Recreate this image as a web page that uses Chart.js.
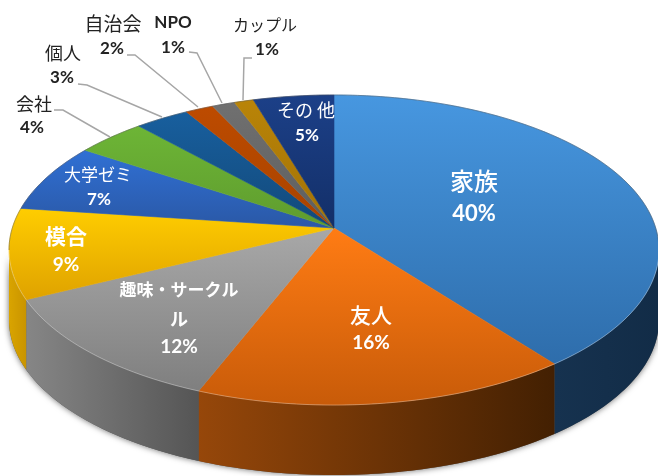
<!DOCTYPE html>
<html lang="ja">
<head>
<meta charset="utf-8">
<title>3D pie</title>
<script src="https://cdn.jsdelivr.net/npm/chart.js@4"></script>
<style>
    html, body { margin: 0; padding: 0; background: #fff; }
    #chart { display: block; filter: blur(0.4px); }
</style>
</head>
<body>
<canvas id="chart" width="658" height="476"></canvas>
<script>
const categories = ['家族', '友人', '趣味・サークル', '模合', '大学ゼミ', '会社', '個人', '自治会', 'NPO', 'カップル', 'その他'];
// unrounded shares estimated from the slice edges, the printed labels are these rounded
const shares = [39.6, 16.35, 11.75, 9.4, 7.2, 4.0, 3.1, 1.6, 1.3, 1.1, 4.6];

// top face gradient, top to bottom
const topLight = ['#4797e0', '#ff7c14', '#a8a8a8', '#ffcd00', '#3070d4', '#6db536', '#185f9e', '#bd4b00', '#707070', '#b98408', '#1c4088'];
const topDark = ['#2e6dab', '#c85b09', '#7f7f7f', '#dfa200', '#2a58a6', '#5f9c2e', '#12497a', '#a84300', '#5e5e5e', '#a27206', '#132f68'];
// side wall gradient, left to right
const wallLeft = ['#16324f', '#96470a', '#868686', '#d9a400'];
const wallRight = ['#122c47', '#432002', '#555555', '#c99400'];

// perspective of the disc
const apexX = 334, apexY = 228;
const scaleX = 321.7, scaleY = 151.9, tilt = 0.142;
const depth = 70;

// [text, x, y, font, colour]
const jpFont = '"Noto Sans CJK JP", sans-serif';
const numFont = 'Lato, sans-serif';
const textLabels = [
    ['家族', 474, 181, '500 24px ' + jpFont, '#fff'],
    ['40%', 474, 214, 'bold 22px ' + numFont, '#fff'],
    ['友人', 371, 315, '500 21px ' + jpFont, '#fff'],
    ['16%', 371, 343, 'bold 19px ' + numFont, '#fff'],
    ['趣味・サークル', 179, 290, 'bold 17px ' + jpFont, '#fff'],
    ['ル', 179, 319, 'bold 18px ' + jpFont, '#fff'],
    ['12%', 179, 347, 'bold 19px ' + numFont, '#fff'],
    ['模合', 66, 236, 'bold 21px ' + jpFont, '#fff'],
    ['9%', 66, 265, 'bold 19px ' + numFont, '#fff'],
    ['大学ゼミ', 98, 175, '17px ' + jpFont, '#fff'],
    ['7%', 99, 200, 'bold 17px ' + numFont, '#fff'],
    ['その 他', 306, 110, '18px ' + jpFont, '#fff'],
    ['5%', 307, 136, 'bold 17px ' + numFont, '#fff'],
    ['会社', 34, 104, '18px ' + jpFont, '#222'],
    ['4%', 32, 128, 'bold 17px ' + numFont, '#222'],
    ['個人', 63, 53, '18px ' + jpFont, '#222'],
    ['3%', 62, 78, 'bold 17px ' + numFont, '#222'],
    ['自治会', 113, 24, '19px ' + jpFont, '#222'],
    ['2%', 112, 49, 'bold 17px ' + numFont, '#222'],
    ['NPO', 173, 23, 'bold 17px ' + numFont, '#222'],
    ['1%', 173, 48, 'bold 17px ' + numFont, '#222'],
    ['カップル', 265, 25, '16px ' + jpFont, '#222'],
    ['1%', 267, 50, 'bold 17px ' + numFont, '#222']
];

const leaders = [
    [[54, 110], [63, 110], [110, 137]],
    [[78, 84], [87, 85], [162, 117]],
    [[127, 55], [135, 55], [198, 107]],
    [[189, 52], [197, 53], [222, 103]],
    [[252, 58], [244, 58], [243, 100]]
];

function project(angle, drop) {
    const u = Math.cos(angle), v = Math.sin(angle);
    const d = 1 - tilt * v;
    return [apexX + scaleX * u / d, apexY + scaleY * v / d + (drop || 0)];
}

function arcPoints(from, to, drop) {
    const n = Math.max(2, Math.ceil((to - from) * 60));
    const pts = [];
    for (let i = 0; i <= n; i++) {
        pts.push(project(from + (to - from) * i / n, drop));
    }
    return pts;
}

function tracePoints(ctx, pts) {
    pts.forEach(p => ctx.lineTo(p[0], p[1]));
}

// the front of the rim only shows between the two side extremes of the ellipse
const frontFrom = Math.asin(tilt);
const frontTo = Math.PI - Math.asin(tilt);

function drawWalls(ctx, arcs) {
    // soft shadow under the whole front
    ctx.save();
    ctx.shadowColor = 'rgba(0,0,0,0.6)';
    ctx.shadowBlur = 6;
    ctx.fillStyle = '#555';
    ctx.beginPath();
    const outline = arcPoints(frontFrom, frontTo, depth);
    ctx.moveTo(outline[0][0], outline[0][1]);
    tracePoints(ctx, outline);
    tracePoints(ctx, arcPoints(frontFrom, frontTo, 0).reverse());
    ctx.closePath();
    ctx.fill();
    ctx.restore();

    arcs.forEach((arc, i) => {
        const from = Math.max(arc.startAngle, frontFrom);
        const to = Math.min(arc.endAngle, frontTo);
        if (to <= from) return;
        const lower = arcPoints(from, to, depth);
        const upper = arcPoints(from, to, 0).reverse();
        const xs = lower.map(p => p[0]);
        const grad = ctx.createLinearGradient(Math.min(...xs), 0, Math.max(...xs), 0);
        grad.addColorStop(0, wallLeft[i]);
        grad.addColorStop(1, wallRight[i]);
        ctx.fillStyle = grad;
        ctx.beginPath();
        ctx.moveTo(lower[0][0], lower[0][1]);
        tracePoints(ctx, lower);
        tracePoints(ctx, upper);
        ctx.closePath();
        ctx.fill();
    });
}

function drawTopFaces(ctx, arcs) {
    arcs.forEach((arc, i) => {
        const pts = arcPoints(arc.startAngle, arc.endAngle, 0);
        const ys = pts.map(p => p[1]).concat(apexY);
        const grad = ctx.createLinearGradient(0, Math.min(...ys), 0, Math.max(...ys));
        grad.addColorStop(0, topLight[i]);
        grad.addColorStop(1, topDark[i]);
        ctx.fillStyle = grad;
        ctx.strokeStyle = grad;
        ctx.lineWidth = 0.6;
        ctx.beginPath();
        ctx.moveTo(apexX, apexY);
        tracePoints(ctx, pts);
        ctx.closePath();
        ctx.fill();
        ctx.stroke();
    });

    // thin edge along the rim
    ctx.lineWidth = 1;
    ctx.strokeStyle = 'rgba(255,255,255,0.3)';
    ctx.beginPath();
    arcPoints(frontFrom, frontTo, 0).forEach(p => ctx.lineTo(p[0], p[1]));
    ctx.stroke();
    ctx.strokeStyle = 'rgba(80,80,80,0.45)';
    ctx.beginPath();
    arcPoints(frontTo, frontFrom + Math.PI * 2, 0).forEach(p => ctx.lineTo(p[0], p[1]));
    ctx.stroke();
}

function drawLabels(ctx) {
    ctx.strokeStyle = '#a6a6a6';
    ctx.lineWidth = 1.5;
    leaders.forEach(line => {
        ctx.beginPath();
        line.forEach(p => ctx.lineTo(p[0], p[1]));
        ctx.stroke();
    });
    ctx.textAlign = 'center';
    ctx.textBaseline = 'middle';
    textLabels.forEach(t => {
        ctx.font = t[3];
        ctx.fillStyle = t[4];
        ctx.fillText(t[0], t[1], t[2]);
    });
}

// replaces the flat arcs with the tilted disc, angles still come from the controller
const tiltedPie = {
    id: 'tiltedPie',
    beforeDatasetDraw(chart, args) {
        const ctx = chart.ctx;
        const arcs = args.meta.data;
        ctx.save();
        drawWalls(ctx, arcs);
        drawTopFaces(ctx, arcs);
        drawLabels(ctx);
        ctx.restore();
        return false;
    }
};

new Chart(document.getElementById('chart'), {
    type: 'pie',
    data: {
        labels: categories,
        datasets: [{ data: shares, backgroundColor: topLight, borderWidth: 0 }]
    },
    options: {
        responsive: false,
        animation: false,
        plugins: {
            legend: { display: false },
            tooltip: { enabled: false }
        }
    },
    plugins: [tiltedPie]
});
</script>
</body>
</html>
